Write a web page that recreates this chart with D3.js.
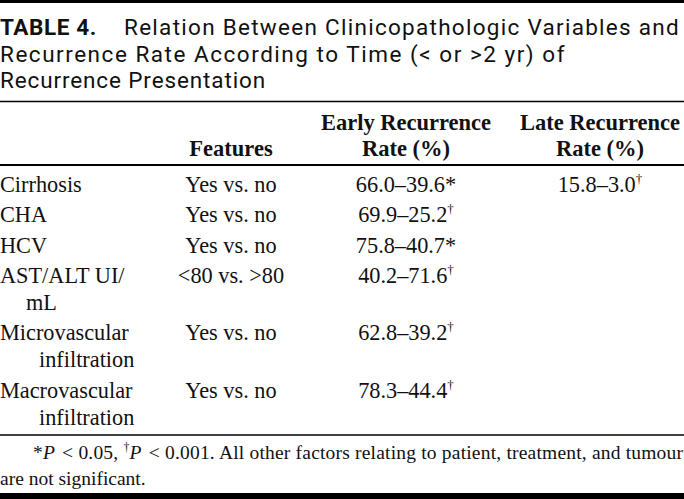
<!DOCTYPE html>
<html>
<head>
<meta charset="utf-8">
<script src="https://cdn.jsdelivr.net/npm/d3@7"></script>
<style>
html,body{margin:0;padding:0;background:#fff;}
svg{display:block;}
</style>
</head>
<body>
<svg id="chart" width="684" height="499"></svg>
<script>
// ---- data ----
const titleLabel = "TABLE 4.";
const titleLines = [
  "Relation Between Clinicopathologic Variables and",
  "Recurrence Rate According to Time (< or >2 yr) of",
  "Recurrence Presentation"
];
const headerFeatures = ["Features"];
const headerEarly = ["Early Recurrence", "Rate (%)"];
const headerLate = ["Late Recurrence", "Rate (%)"];
const rowLabels = [["Cirrhosis"], ["CHA"], ["HCV"], ["AST/ALT UI/", "mL"], ["Microvascular", "infiltration"], ["Macrovascular", "infiltration"]];
const features = ["Yes vs. no", "Yes vs. no", "Yes vs. no", "<80 vs. >80", "Yes vs. no", "Yes vs. no"];
const earlyRates = ["66.0–39.6", "69.9–25.2", "75.8–40.7", "40.2–71.6", "62.8–39.2", "78.3–44.4"];
const earlyMarks = ["*", "†", "*", "†", "†", "†"];
const lateRates = ["15.8–3.0", "", "", "", "", ""];
const lateMarks = ["†", "", "", "", "", ""];
const footnote1 = ["*", "P", " < 0.05, ", "†", "P", " < 0.001. All other factors relating to patient, treatment, and tumour"];
const footnote2 = "are not significant.";

// ---- layout ----
const W = 684, H = 499;
const svg = d3.select("#chart");
const serif = "'Liberation Serif','Times New Roman',serif";
const sans = "Roboto,'Liberation Sans',sans-serif";
const ink = "#111";

// rules
const rules = [
  {y: 1.5, w: 3},
  {y: 101.5, w: 1.5},
  {y: 165, w: 2},
  {y: 435, w: 1.5},
  {y: 496, w: 6}
];
svg.selectAll("line.rule").data(rules).join("line")
  .attr("class", "rule")
  .attr("x1", 0).attr("x2", W)
  .attr("y1", d => d.y).attr("y2", d => d.y)
  .attr("stroke", "#000").attr("stroke-width", d => d.w);

// title
const titleY = d3.scalePoint().domain(d3.range(titleLines.length)).range([35, 88]);
const titleX = [124, 0, 0];
const titleEnd = [680, 566, 266];
const tSize = 22.5;
const meas = svg.append("text").attr("font-family", sans).attr("font-size", tSize).attr("visibility", "hidden");
const spacing = titleLines.map((s, i) => {
  meas.text(s);
  const nat = meas.node().getComputedTextLength();
  return (titleEnd[i] - titleX[i] - nat) / s.length;
});
meas.remove();
const title = svg.append("g").attr("font-family", sans).attr("font-size", tSize).attr("fill", ink);
title.append("text").attr("x", 0).attr("y", titleY(0)).attr("font-weight", "bold").attr("letter-spacing", 0.6).text(titleLabel);
titleLines.forEach((s, i) => {
  title.append("text").attr("x", titleX[i]).attr("y", titleY(i))
    .attr("letter-spacing", spacing[i].toFixed(3)).text(s);
});

// columns
const colX = d3.scaleOrdinal().domain(["label", "features", "early", "late"]).range([0, 231, 406, 600]);

// header
const hg = svg.append("g").attr("font-family", serif).attr("font-size", 22.5).attr("font-weight", "bold").attr("fill", ink).attr("text-anchor", "middle");
const hY = d3.scalePoint().domain([0, 1]).range([130, 156]);
hg.append("text").attr("x", colX("features")).attr("y", hY(1)).text(headerFeatures[0]);
[["early", headerEarly], ["late", headerLate]].forEach(([k, lines]) => {
  lines.forEach((s, i) => hg.append("text").attr("x", colX(k)).attr("y", hY(i)).text(s));
});

// body rows: line-based vertical scale
const rowStart = [];
let li = 0;
rowLabels.forEach((l) => { rowStart.push(li); li += l.length; });
const lineY = d3.scaleLinear().domain([0, 1]).range([192, 219]);
const rowGap = 3.3;
const rowBase = (r) => lineY(rowStart[r]) + r * rowGap;
const contIndent = (s) => s === "mL" ? 26 : 39;

const bg = svg.append("g").attr("font-family", serif).attr("font-size", 22.3).attr("fill", ink);
rowLabels.forEach((lab, r) => {
  lab.forEach((s, k) => {
    bg.append("text").attr("x", k === 0 ? colX("label") : colX("label") + contIndent(s))
      .attr("y", rowBase(r) + k * (lineY(1) - lineY(0))).text(s);
  });
  bg.append("text").attr("x", colX("features")).attr("y", rowBase(r)).attr("text-anchor", "middle").text(features[r]);
  const addRate = (val, mark, x) => {
    if (!val) return;
    const t = bg.append("text").attr("x", x).attr("y", rowBase(r)).attr("text-anchor", "middle");
    t.append("tspan").text(val);
    if (mark === "†") t.append("tspan").attr("font-size", 13).attr("dy", -9).text(mark);
    else t.append("tspan").text(mark);
  };
  addRate(earlyRates[r], earlyMarks[r], colX("early"));
  addRate(lateRates[r], lateMarks[r], colX("late"));
});

// footnote
const fg = svg.append("g").attr("font-family", serif).attr("font-size", 19.5).attr("fill", ink);
const f1 = fg.append("text").attr("x", 33).attr("y", 459);
f1.append("tspan").text(footnote1[0]);
f1.append("tspan").attr("font-style", "italic").text(footnote1[1]);
f1.append("tspan").attr("dx", 2).text(footnote1[2].replace(" < ", " <  "));
f1.append("tspan").attr("font-size", 12).attr("dy", -8).text(footnote1[3]);
f1.append("tspan").attr("dy", 8).attr("font-style", "italic").text(footnote1[4]);
f1.append("tspan").attr("dx", 2).text(footnote1[5].replace(" < ", " <  "));
const fw = f1.node().getComputedTextLength();
if (fw < 650) f1.attr("textLength", 650).attr("lengthAdjust", "spacing");
fg.append("text").attr("x", 0).attr("y", 485).text(footnote2);
</script>
</body>
</html>
